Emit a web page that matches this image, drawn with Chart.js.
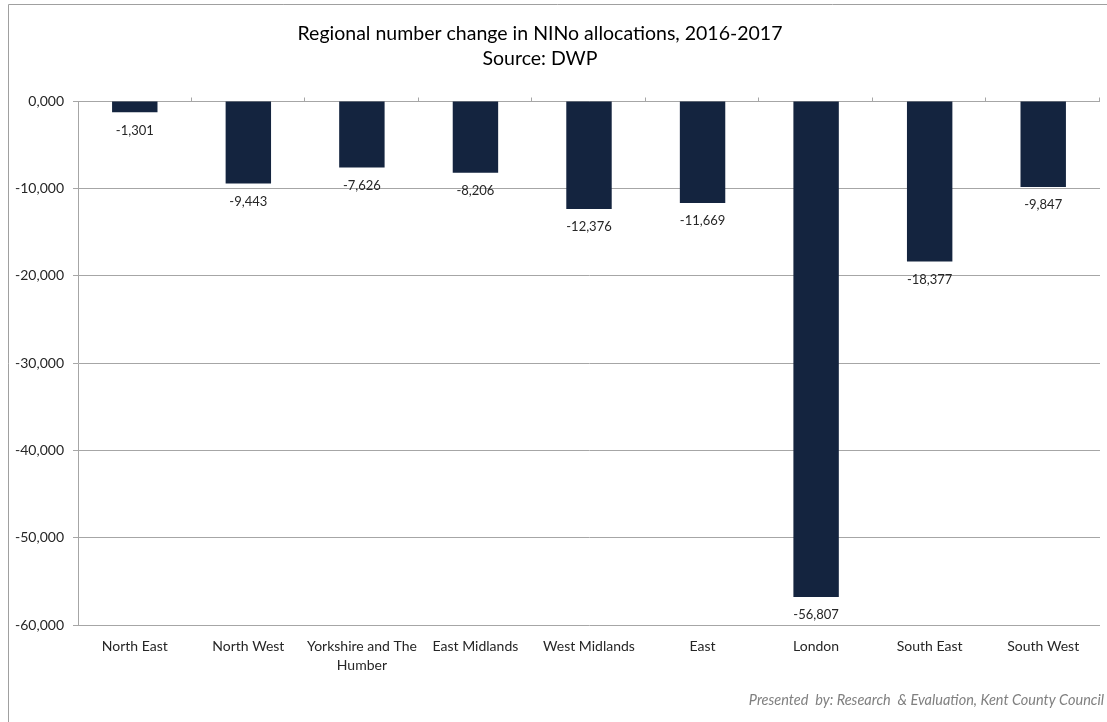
<!DOCTYPE html>
<html>
<head>
<meta charset="utf-8">
<script src="https://cdn.jsdelivr.net/npm/chart.js@4.4.0/dist/chart.umd.min.js"></script>
<style>
  html, body { margin: 0; padding: 0; background: #fff; }
  #wrap { position: relative; width: 1107px; height: 722px; }
</style>
</head>
<body>
<div id="wrap"><canvas id="nino"></canvas></div>
<script>
// Region names (x axis)
const regions = [
  'North East', 'North West', ['Yorkshire and The', 'Humber'], 'East Midlands',
  'West Midlands', 'East', 'London', 'South East', 'South West'
];
// Change in NINo allocations 2016-2017
const changes = [-1301, -9443, -7626, -8206, -12376, -11669, -56807, -18377, -9847];
// Y axis tick values and the labels Excel shows for them
const tickValues = [0, -10000, -20000, -30000, -40000, -50000, -60000];
const tickLabels = ['0,000', '-10,000', '-20,000', '-30,000', '-40,000', '-50,000', '-60,000'];

const titleLines = ['Regional number change in NINo allocations, 2016-2017', 'Source: DWP'];
const footnote = 'Presented  by: Research  & Evaluation, Kent County Council';

const FONT = 'Lato, "Liberation Sans", sans-serif';
const TEXT = '#262626';
const GRID = '#a6a6a6';

// frame, titles, footnote, x tick marks at the zero line and value labels under bars
const extras = {
  id: 'extras',
  beforeDraw(chart) {
    const ctx = chart.ctx;
    ctx.save();
    ctx.strokeStyle = '#a0a0a0';
    ctx.lineWidth = 1;
    ctx.beginPath();
    ctx.moveTo(8.5, 722);
    ctx.lineTo(8.5, 4.5);
    ctx.lineTo(1107, 4.5);
    ctx.stroke();

    // title is centred on the (wider, cropped) Excel chart frame
    ctx.fillStyle = '#000';
    ctx.font = '19.5px ' + FONT;
    ctx.textAlign = 'center';
    ctx.textBaseline = 'middle';
    ctx.fillText(titleLines[0], 540, 34);
    ctx.fillText(titleLines[1], 540, 59);

    ctx.fillStyle = '#808080';
    ctx.font = 'italic 14.5px ' + FONT;
    ctx.textAlign = 'right';
    ctx.fillText(footnote, 1104, 700);
    ctx.restore();
  },
  afterDatasetsDraw(chart) {
    const ctx = chart.ctx;
    const x = chart.scales.x;
    const y = chart.scales.y;
    const y0 = Math.round(y.getPixelForValue(0)) + 0.5;
    ctx.save();
    ctx.strokeStyle = GRID;
    ctx.lineWidth = 1;
    ctx.beginPath();
    const step = (x.right - x.left) / regions.length;
    for (let i = 1; i <= regions.length; i++) {
      const px = Math.round(x.left + step * i) - 0.5;
      ctx.moveTo(px, y0 - 4);
      ctx.lineTo(px, y0);
    }
    ctx.stroke();

    ctx.fillStyle = TEXT;
    ctx.font = '13px ' + FONT;
    ctx.textAlign = 'center';
    ctx.textBaseline = 'middle';
    const meta = chart.getDatasetMeta(0);
    meta.data.forEach((bar, i) => {
      ctx.fillText(changes[i].toLocaleString('en-GB'), bar.x, bar.y + 18);
    });
    ctx.restore();
  }
};

const ctx = document.getElementById('nino').getContext('2d');
new Chart(ctx, {
  type: 'bar',
  data: {
    labels: regions,
    datasets: [{
      data: changes,
      backgroundColor: '#14243f',
      borderWidth: 0,
      barPercentage: 0.4,
      categoryPercentage: 1
    }]
  },
  options: {
    responsive: true,
    maintainAspectRatio: false,
    animation: false,
    layout: { padding: { left: 8, right: 7, top: 101, bottom: 0 } },
    plugins: {
      legend: { display: false },
      tooltip: { enabled: false },
      title: { display: false }
    },
    scales: {
      x: {
        position: 'bottom',
        grid: { display: false, drawTicks: false },
        border: { display: false },
        ticks: {
          color: TEXT,
          font: { family: FONT, size: 14, lineHeight: 1.36 },
          padding: 12,
          maxRotation: 0,
          autoSkip: false
        },
        afterFit(scale) { scale.height = 97; }
      },
      y: {
        min: -60000,
        max: 0,
        afterBuildTicks(scale) {
          scale.ticks = tickValues.map(v => ({ value: v }));
        },
        grid: { color: GRID, tickLength: 5, tickColor: GRID },
        border: { display: true, color: GRID },
        ticks: {
          color: TEXT,
          font: { family: FONT, size: 14 },
          padding: 9,
          callback(value) {
            const i = tickValues.indexOf(value);
            return i >= 0 ? tickLabels[i] : '';
          }
        },
        afterFit(scale) { scale.width = 70; }
      }
    }
  },
  plugins: [extras]
});
</script>
</body>
</html>
